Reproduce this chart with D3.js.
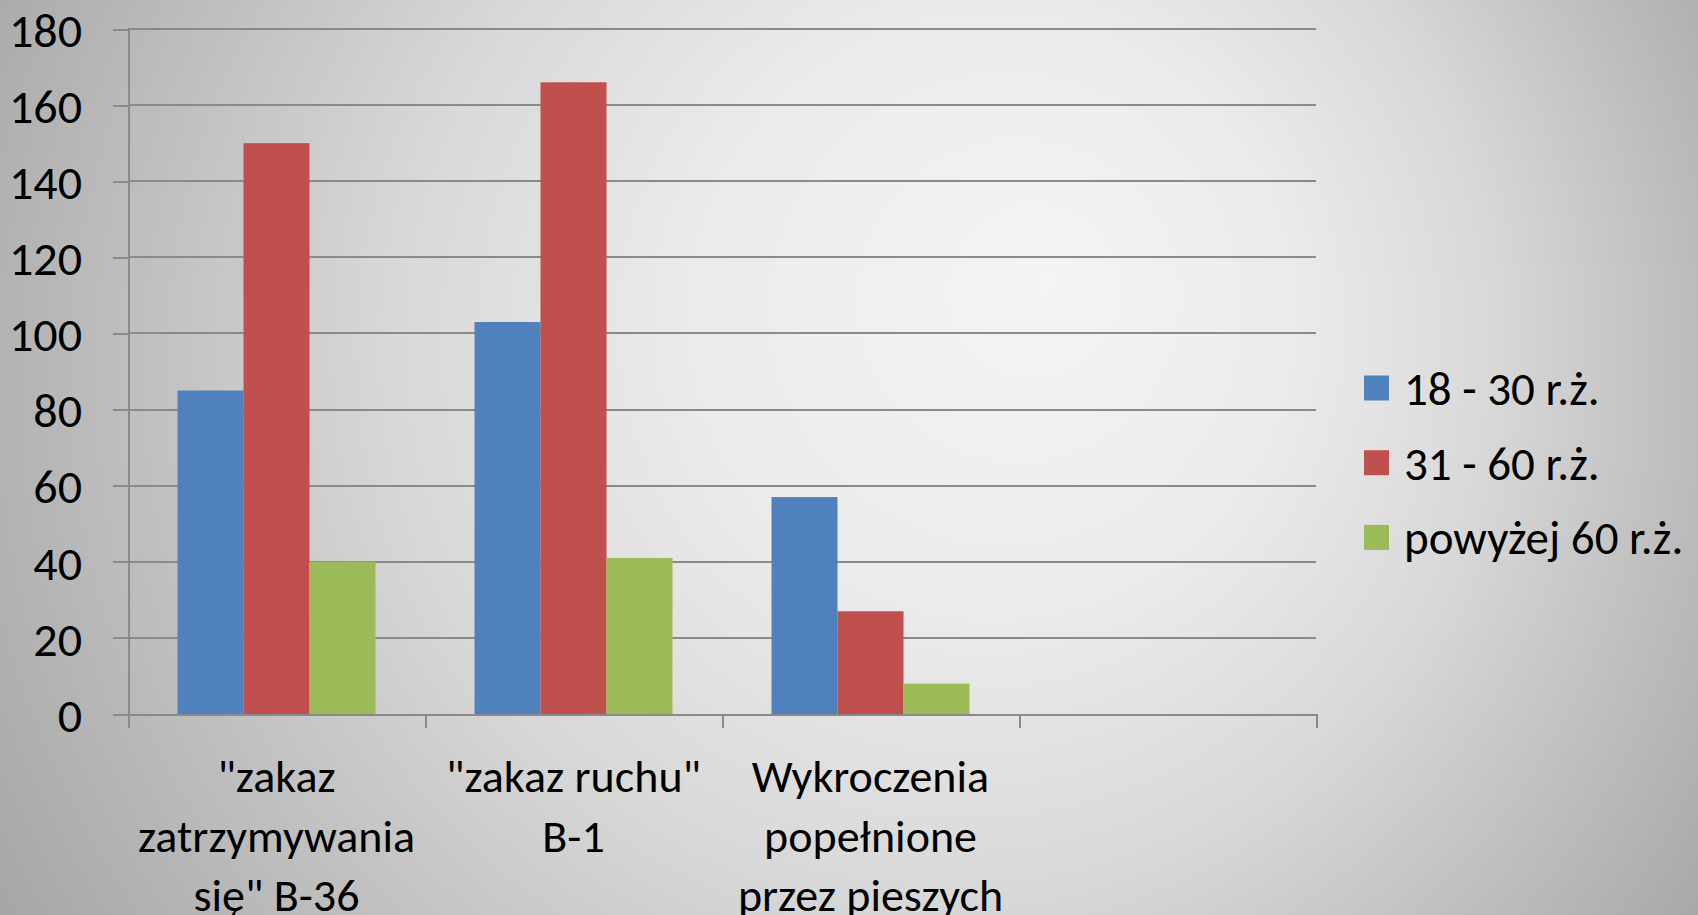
<!DOCTYPE html>
<meta charset="utf-8">
<style>
    body {
        margin: 0;
        overflow: hidden;
    }

    svg {
        font-family: Carlito, Lato, sans-serif;
        display: block;
    }

    .grid line {
        stroke: #8a8a8a;
        stroke-width: 2;
        shape-rendering: crispEdges;
    }

    .axis path,
    .axis line {
        fill: none;
        stroke: #8a8a8a;
        stroke-width: 2;
        shape-rendering: crispEdges;
    }

    .axis text {
        fill: #000;
    }
</style>
<body>
<script src="https://cdn.jsdelivr.net/npm/d3@7"></script>
<script>
    // data
    const categories = ['"zakaz\nzatrzymywania\nsię" B-36', '"zakaz ruchu"\nB-1', 'Wykroczenia\npopełnione\nprzez pieszych', ''];
    const series = ['18 - 30 r.ż.', '31 - 60 r.ż.', 'powyżej 60 r.ż.'];
    const young = [85, 103, 57, null];
    const middle = [150, 166, 27, null];
    const older = [40, 41, 8, null];
    const yTicks = [0, 20, 40, 60, 80, 100, 120, 140, 160, 180];
    const colors = ['#4f81bd', '#c0504d', '#9bbb59'];

    const values = [young, middle, older];

    const W = 1698, H = 915;
    const margin = {top: 29, right: 382, bottom: 201, left: 128};
    const width = W - margin.left - margin.right;
    const height = H - margin.top - margin.bottom;

    const svg = d3.select('body')
        .append('svg')
        .attr('width', W)
        .attr('height', H);

    // background gradient
    const defs = svg.append('defs');
    const grad = defs.append('radialGradient')
        .attr('id', 'bg')
        .attr('gradientUnits', 'userSpaceOnUse')
        .attr('cx', 860).attr('cy', 400).attr('r', 1000)
        .attr('fx', 1050).attr('fy', 280);
    [[0, '#f4f4f4'], [0.3, '#ebebeb'], [0.55, '#d8d8d8'], [0.78, '#bebebe'], [1, '#a6a6a6']]
        .forEach(s => grad.append('stop').attr('offset', s[0]).attr('stop-color', s[1]));

    svg.append('rect')
        .attr('width', W)
        .attr('height', H)
        .attr('fill', 'url(#bg)');

    const g = svg.append('g')
        .attr('transform', 'translate(' + margin.left + ',' + margin.top + ')');

    const x0 = d3.scaleBand()
        .domain(d3.range(categories.length))
        .range([0, width]);

    const x1 = d3.scaleBand()
        .domain(d3.range(series.length))
        .range([0, x0.bandwidth()])
        .paddingInner(0)
        .paddingOuter(0.75);

    const y = d3.scaleLinear()
        .domain([0, 180])
        .range([height, 0]);

    // horizontal gridlines
    g.append('g')
        .attr('class', 'grid')
        .selectAll('line')
        .data(yTicks.slice(1))
        .enter().append('line')
        .attr('x1', 0)
        .attr('x2', width)
        .attr('y1', d => y(d))
        .attr('y2', d => y(d));

    // bars
    const groups = g.selectAll('.cat')
        .data(categories.map((c, i) => i))
        .enter().append('g')
        .attr('class', 'cat')
        .attr('transform', i => 'translate(' + x0(i) + ',0)');

    groups.selectAll('rect')
        .data(i => values.map((v, s) => ({s: s, v: v[i]})).filter(d => d.v != null))
        .enter().append('rect')
        .attr('x', d => x1(d.s))
        .attr('width', x1.bandwidth())
        .attr('y', d => y(d.v))
        .attr('height', d => height - y(d.v))
        .attr('fill', d => colors[d.s]);

    // y axis
    const yAxis = d3.axisLeft(y)
        .tickValues(yTicks)
        .tickSize(15)
        .tickSizeOuter(0)
        .tickPadding(31);

    g.append('g')
        .attr('class', 'y axis')
        .call(yAxis)
        .attr('font-family', null)
        .attr('font-size', null)
        .selectAll('text')
        .style('font-size', '48px')
        .attr('dy', '0.36em');

    // x axis: ticks at category boundaries
    const xb = d3.scaleLinear().domain([0, categories.length]).range([0, width]);
    g.append('g')
        .attr('class', 'x axis')
        .attr('transform', 'translate(0,' + height + ')')
        .call(d3.axisBottom(xb).ticks(categories.length).tickSize(14).tickSizeOuter(0).tickFormat(''));

    // category labels
    const labels = g.append('g')
        .attr('class', 'cat-labels')
        .selectAll('text')
        .data(categories)
        .enter().append('text')
        .attr('x', (d, i) => x0(i) + x0.bandwidth() / 2)
        .attr('y', height + 78)
        .attr('text-anchor', 'middle')
        .style('font-size', '46px');

    labels.selectAll('tspan')
        .data(d => d.split('\n'))
        .enter().append('tspan')
        .attr('x', function () { return d3.select(this.parentNode).attr('x'); })
        .attr('dy', (d, i) => i === 0 ? 0 : 59.5)
        .text(d => d);

    // legend
    const legend = svg.append('g')
        .attr('class', 'legend')
        .selectAll('g')
        .data(series)
        .enter().append('g')
        .attr('transform', (d, i) => 'translate(1364,' + (388 + i * 74.7) + ')');

    legend.append('rect')
        .attr('y', -12.5)
        .attr('width', 25)
        .attr('height', 25)
        .attr('fill', (d, i) => colors[i]);

    legend.append('text')
        .attr('x', 40)
        .attr('dy', '0.36em')
        .style('font-size', '47px')
        .text(d => d);
</script>
</body>
